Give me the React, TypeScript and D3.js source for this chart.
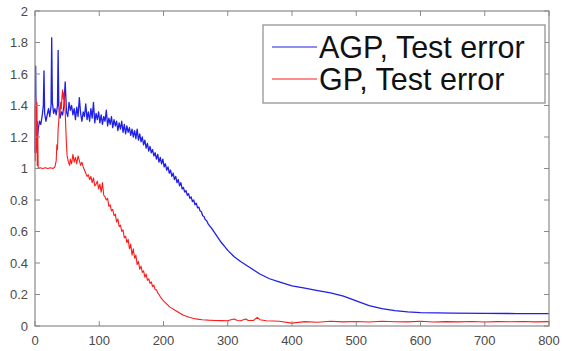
import * as d3 from "d3"

// iteration, test error
const agpIter = [
  0, 1, 2, 3, 5, 7, 9, 11, 13, 14, 15, 17, 19, 21, 23, 25, 26, 27, 29, 31, 33, 35, 36, 37, 39, 41, 43, 45, 47,
  49, 51, 53, 55, 57, 59, 61, 63, 65, 67, 69, 71, 73, 75, 77, 79, 81, 83, 85, 87, 89, 91, 93, 95, 97, 99,
  101, 103, 105, 107, 109, 111, 113, 115, 117, 119, 121, 123, 125, 127, 129, 131, 133, 135, 137, 139,
  141, 143, 145, 147, 149, 151, 153, 155, 157, 159, 161, 163, 165, 167, 169, 171, 173, 175, 177, 179,
  181, 183, 185, 187, 189, 191, 193, 195, 197, 199, 201, 203, 205, 207, 209, 211, 213, 215, 217, 219,
  221, 223, 225, 227, 229, 231, 233, 235, 237, 239, 241, 243, 245, 247, 249, 251, 253, 255, 257, 259,
  261, 263, 265, 267, 270, 275, 280, 285, 290, 295, 300, 310, 320, 335, 350, 365, 380, 400, 420, 440,
  460, 480, 500, 520, 540, 560, 580, 600, 650, 700, 750, 800,
]
const agpErr = [
  1.1, 1.65, 1.12, 1.15, 1.25, 1.3, 1.28, 1.33, 1.4, 1.62, 1.35, 1.3, 1.34, 1.38, 1.33, 1.4, 1.83, 1.42, 1.35, 1.38, 1.34, 1.4, 1.75, 1.4, 1.32, 1.36, 1.34, 1.4, 1.55,
  1.36, 1.33, 1.42, 1.37, 1.4, 1.34, 1.38, 1.31, 1.39, 1.33, 1.45, 1.35, 1.3, 1.36, 1.33, 1.41, 1.31, 1.36, 1.3, 1.38, 1.32, 1.42, 1.29, 1.35, 1.31, 1.36,
  1.29, 1.34, 1.28, 1.33, 1.3, 1.37, 1.27, 1.32, 1.28, 1.33, 1.26, 1.31, 1.27, 1.3, 1.24, 1.29, 1.25, 1.3, 1.23, 1.28,
  1.22, 1.27, 1.23, 1.26, 1.21, 1.25, 1.2, 1.24, 1.19, 1.25, 1.18, 1.22, 1.17, 1.2, 1.15, 1.18, 1.13, 1.16, 1.11, 1.14,
  1.1, 1.12, 1.08, 1.1, 1.06, 1.09, 1.04, 1.07, 1.03, 1.06, 1.01, 1.03, 0.99, 1.01, 0.97, 0.99, 0.95, 0.97, 0.93, 0.95,
  0.91, 0.93, 0.89, 0.91, 0.87, 0.88, 0.85, 0.86, 0.83, 0.84, 0.81, 0.82, 0.79, 0.8, 0.77, 0.78, 0.75, 0.755, 0.73, 0.725,
  0.7, 0.695, 0.675, 0.67, 0.645, 0.62, 0.59, 0.56, 0.53, 0.505, 0.48, 0.44, 0.41, 0.37, 0.33, 0.3, 0.28, 0.255, 0.24, 0.225,
  0.21, 0.19, 0.16, 0.13, 0.11, 0.097, 0.09, 0.085, 0.082, 0.08, 0.079, 0.078,
]

const gpIter = [
  0, 0.5, 1, 1.5, 2, 2.5, 3, 3.5, 4, 5, 8, 12, 16, 20, 24, 28, 31, 33, 34, 35, 36, 37, 38, 39, 40, 41, 42, 43, 44, 45, 46, 47, 48, 49, 50,
  52, 54, 55, 57, 59, 61, 63, 65, 67, 69, 71, 73, 75, 77, 79, 81, 83, 85, 87, 89, 91, 93, 95, 97, 99,
  101, 103, 105, 107, 109, 111, 113, 115, 117, 119, 121, 123, 125, 127, 129, 131, 133, 135, 137, 139,
  141, 143, 145, 147, 149, 151, 153, 155, 157, 159, 161, 163, 165, 167, 169, 171, 173, 175, 177, 179,
  181, 183, 185, 187, 189, 191, 193, 195, 200, 210, 220, 230, 240, 250, 260, 270, 280, 290, 300,
  305, 310, 315, 320, 328, 332, 340, 346, 350, 360, 380, 400, 420, 440, 460, 480, 500, 520, 540, 560,
  580, 600, 620, 640, 660, 680, 700, 720, 740, 760, 780, 800,
]
const gpErr = [
  1.4, 1.05, 1.45, 1.1, 1.38, 1.15, 1.42, 1.02, 1.3, 1.0, 1.005, 1.0, 1.005, 1.0, 1.005, 1.0, 1.01, 1.05, 1.15, 1.12, 1.25, 1.3, 1.38, 1.35, 1.42, 1.38, 1.46, 1.5, 1.44, 1.48, 1.4, 1.36, 1.25, 1.15, 1.08,
  1.04, 1.02, 1.06, 1.03, 1.09, 1.04, 1.07, 1.03, 1.08, 1.05, 1.02, 1.04, 1.01, 0.99, 0.97, 0.95, 0.96, 0.93, 0.95, 0.91, 0.94, 0.89, 0.9, 0.92, 0.87,
  0.9, 0.85, 0.91, 0.83, 0.82, 0.8, 0.81, 0.76, 0.77, 0.73, 0.74, 0.7, 0.71, 0.66, 0.68, 0.63, 0.64, 0.6, 0.61, 0.56,
  0.57, 0.53, 0.55, 0.49, 0.52, 0.45, 0.49, 0.43, 0.45, 0.39, 0.41, 0.36, 0.38, 0.34, 0.35, 0.31, 0.33, 0.29, 0.3, 0.27,
  0.28, 0.25, 0.26, 0.23, 0.23, 0.21, 0.2, 0.185, 0.16, 0.12, 0.095, 0.07, 0.055, 0.045, 0.04, 0.037, 0.035, 0.034, 0.033,
  0.04, 0.045, 0.035, 0.033, 0.045, 0.035, 0.035, 0.055, 0.04, 0.033, 0.03, 0.018, 0.028, 0.024, 0.03, 0.026, 0.029, 0.025, 0.03, 0.027,
  0.026, 0.03, 0.025, 0.028, 0.026, 0.029, 0.025, 0.028, 0.027, 0.029, 0.026, 0.028,
]

const xTicks = [0, 100, 200, 300, 400, 500, 600, 700, 800]
const yTicks = [0, 0.2, 0.4, 0.6, 0.8, 1, 1.2, 1.4, 1.6, 1.8, 2]
const seriesNames = ["AGP, Test error", "GP, Test error"]
const seriesColors = ["#1f1fe6", "#ff1a1a"]

export default function App() {
  const width = 562
  const height = 351
  const margin = { top: 11, right: 13, bottom: 25, left: 35 }
  const x = d3.scaleLinear().domain([0, 800]).range([margin.left, width - margin.right])
  const y = d3.scaleLinear().domain([0, 2]).range([height - margin.bottom, margin.top])

  const axisColor = "#8a8a8a"
  const labelColor = "#4a4a4a"
  const tickLen = 5
  const font = "'Liberation Sans', Arial, sans-serif"

  const agpPath = d3.line<number>()
    .x((_, i) => x(agpIter[i]))
    .y((d) => y(d))(agpErr)
  const gpPath = d3.line<number>()
    .x((_, i) => x(gpIter[i]))
    .y((d) => y(d))(gpErr)

  const [x0, x1] = x.range()
  const [y0, y1] = y.range()

  // legend box
  const lg = { x: 263, y: 25, w: 282, h: 78 }

  return (
    <svg
      width={width}
      height={height}
      style={{ position: "absolute", left: 0, top: 0, background: "#fff", display: "block" }}
    >
      {/* series */}
      <path d={agpPath ?? ""} fill="none" stroke={seriesColors[0]} strokeWidth={1.3} strokeLinejoin="round" />
      <path d={gpPath ?? ""} fill="none" stroke={seriesColors[1]} strokeWidth={1.1} strokeLinejoin="round" />

      {/* box */}
      <rect x={x0} y={y1} width={x1 - x0} height={y0 - y1} fill="none" stroke={axisColor} strokeWidth={1.2} />

      {/* x ticks */}
      {xTicks.map((t) => (
        <g key={t}>
          <line x1={x(t)} x2={x(t)} y1={y0} y2={y0 - tickLen} stroke={axisColor} />
          <line x1={x(t)} x2={x(t)} y1={y1} y2={y1 + tickLen} stroke={axisColor} />
          <text x={x(t)} y={y0 + 19} textAnchor="middle" fontSize={13} fontFamily={font} fill={labelColor}>
            {t}
          </text>
        </g>
      ))}

      {/* y ticks */}
      {yTicks.map((t) => (
        <g key={t}>
          <line x1={x0} x2={x0 + tickLen} y1={y(t)} y2={y(t)} stroke={axisColor} />
          <line x1={x1} x2={x1 - tickLen} y1={y(t)} y2={y(t)} stroke={axisColor} />
          <text x={x0 - 7} y={y(t)} dy="0.35em" textAnchor="end" fontSize={13} fontFamily={font} fill={labelColor}>
            {t}
          </text>
        </g>
      ))}

      {/* legend */}
      <rect x={lg.x} y={lg.y} width={lg.w} height={lg.h} fill="#fff" stroke={axisColor} strokeWidth={1.2} />
      {seriesNames.map((name, i) => (
        <g key={name}>
          <line x1={lg.x + 9} x2={lg.x + 54} y1={lg.y + 22 + i * 32} y2={lg.y + 22 + i * 32} stroke={seriesColors[i]} strokeWidth={1} />
          <text x={lg.x + 56} y={lg.y + 33 + i * 32} fontSize={30.5} fontFamily={font} fill="#111">
            {name}
          </text>
        </g>
      ))}
    </svg>
  )
}
